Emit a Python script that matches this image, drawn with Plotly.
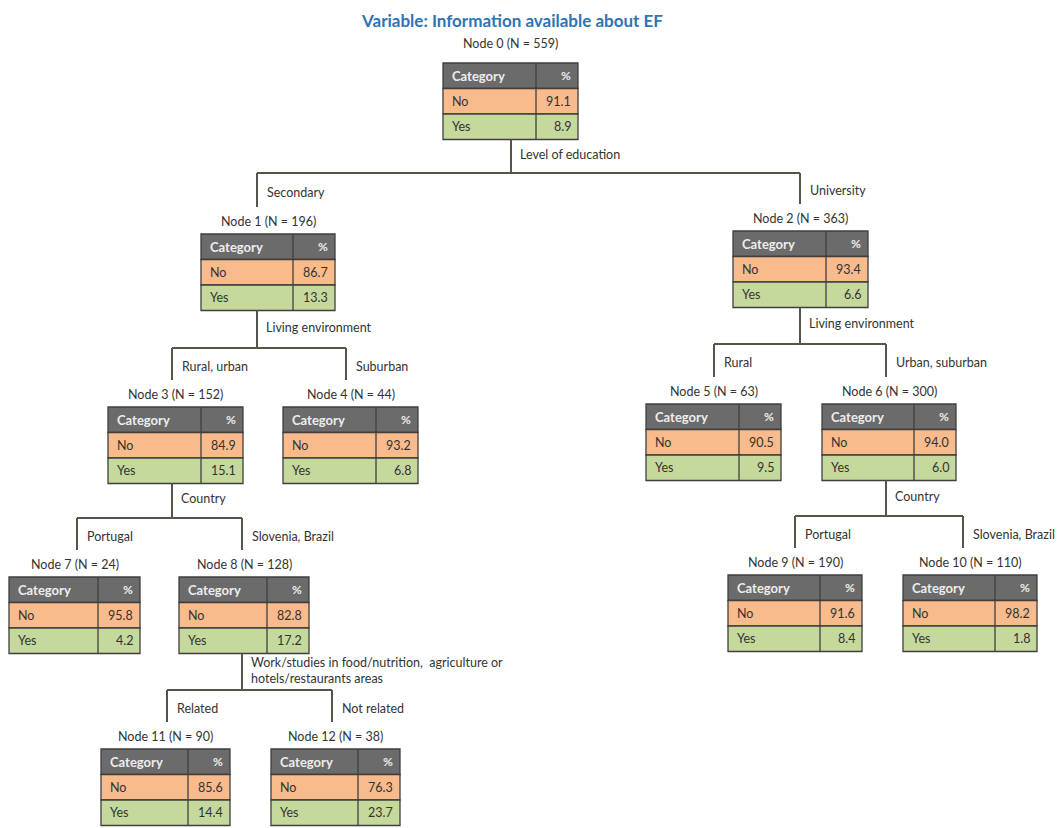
import plotly.graph_objects as go

# ---------------- data ----------------
title_text = "Variable: Information available about EF"
node_ids = [0, 1, 2, 3, 4, 5, 6, 7, 8, 9, 10, 11, 12]
node_n = [559, 196, 363, 152, 44, 63, 300, 24, 128, 190, 110, 90, 38]
pct_no = [91.1, 86.7, 93.4, 84.9, 93.2, 90.5, 94.0, 95.8, 82.8, 91.6, 98.2, 85.6, 76.3]
pct_yes = [8.9, 13.3, 6.6, 15.1, 6.8, 9.5, 6.0, 4.2, 17.2, 8.4, 1.8, 14.4, 23.7]
categories = ["No", "Yes"]
header_labels = ["Category", "%"]

# splits: parent -> (variable, [(child, branch label), ...])
split_parent = [0, 1, 2, 3, 6, 8]
split_variable = ["Level of education", "Living environment", "Living environment",
                  "Country", "Country",
                  "Work/studies in food/nutrition,  agriculture or<br>hotels/restaurants areas"]
split_children = [[1, 2], [3, 4], [5, 6], [7, 8], [9, 10], [11, 12]]
branch_labels = [["Secondary", "University"], ["Rural, urban", "Suburban"],
                 ["Rural", "Urban, suburban"], ["Portugal", "Slovenia, Brazil"],
                 ["Portugal", "Slovenia, Brazil"], ["Related", "Not related"]]

# ---------------- layout (pixel geometry, page coordinates) ----------------
W, H = 1063, 828
PAGE_MARGIN = 8  # default body margin of the html page
tbl_left = {0: 443, 1: 201, 2: 733, 3: 108, 4: 283, 5: 646, 6: 822,
            7: 9, 8: 179, 9: 728, 10: 903, 11: 101, 12: 271}
tbl_top = {0: 63, 1: 234, 2: 231, 3: 407, 4: 407, 5: 404, 6: 404,
           7: 577, 8: 577, 9: 575, 10: 575, 11: 749, 12: 749}
tbl_w = {0: 135, 1: 134, 2: 135, 3: 135, 4: 135, 5: 135, 6: 134,
         7: 131, 8: 130, 9: 134, 10: 134, 11: 129, 12: 129}
col2_w = 42
row_h = 25.5
stem_x = {0: 511, 1: 257, 2: 800, 3: 172, 4: 346, 5: 714, 6: 886,
          7: 77, 8: 242, 9: 795, 10: 963, 11: 167, 12: 332}
split_y = {0: 173, 1: 348, 2: 344, 3: 518, 6: 516, 8: 690}

HEADER = "#6B6B6B"
NO_COL = "#F9BA8C"
YES_COL = "#C5D99D"
BORDER = "#3F3F3F"
LINE = "#55554A"
TXT = "#333333"
FONT = "Lato, 'Open Sans', sans-serif"

fig = go.Figure()
fig.add_trace(go.Scatter(x=[PAGE_MARGIN, W], y=[PAGE_MARGIN, H], mode="markers",
                         marker=dict(opacity=0), hoverinfo="skip", showlegend=False))

shapes = []
ann = []

def add_text(x, y, text, xanchor="left", size=12, color=TXT, bold=False, yanchor="middle"):
    t = f"<b>{text}</b>" if bold else text
    ann.append(dict(x=x, y=y, xref="x", yref="y", text=t, showarrow=False,
                    xanchor=xanchor, yanchor=yanchor, align="left", borderpad=0,
                    font=dict(family=FONT, size=size, color=color)))

# tables
for i, nid in enumerate(node_ids):
    L, T, w = tbl_left[nid], tbl_top[nid], tbl_w[nid]
    R = L + w
    D = R - col2_w
    fills = [HEADER, NO_COL, YES_COL]
    for r in range(3):
        y0 = T + r * row_h
        shapes.append(dict(type="rect", x0=L, x1=R, y0=y0, y1=y0 + row_h,
                           fillcolor=fills[r], line=dict(color=BORDER, width=1.3), layer="below"))
    shapes.append(dict(type="line", x0=D, x1=D, y0=T, y1=T + 3 * row_h,
                       line=dict(color=BORDER, width=1.3)))
    # texts
    add_text(L + 8, T + row_h / 2, header_labels[0], size=13, color="#EDEDED", bold=True)
    add_text(R - 6, T + row_h / 2, header_labels[1], xanchor="right", size=12, color="#EDEDED", bold=True)
    vals = [pct_no[i], pct_yes[i]]
    for r, (cat, v) in enumerate(zip(categories, vals)):
        yc = T + (r + 1) * row_h + row_h / 2
        add_text(L + 8, yc, cat, size=12.5)
        add_text(R - 6, yc, f"{v:.1f}", xanchor="right", size=12.5)
    # node label
    ly = 43 if nid == 0 else T - 13
    add_text(L + w / 2, ly, f"Node {nid} (N = {node_n[i]})", xanchor="center", size=12.5)

# edges
for p, var, kids, labs in zip(split_parent, split_variable, split_children, branch_labels):
    sx = stem_x[p]
    pb = tbl_top[p] + 3 * row_h
    sy = split_y[p]
    shapes.append(dict(type="line", x0=sx, x1=sx, y0=pb, y1=sy, line=dict(color=LINE, width=2)))
    xs = [stem_x[k] for k in kids]
    shapes.append(dict(type="line", x0=min(xs), x1=max(xs), y0=sy, y1=sy, line=dict(color=LINE, width=2)))
    if "<br>" in var:
        add_text(sx + 8, pb + (sy - pb) / 2 - 1, var, size=12.5)
    else:
        add_text(sx + 8, pb + (sy - pb) / 2 - 2, var, size=12.5)
    for k, lab in zip(kids, labs):
        ct = tbl_top[k] - 27
        shapes.append(dict(type="line", x0=stem_x[k], x1=stem_x[k], y0=sy, y1=ct,
                           line=dict(color=LINE, width=2)))
        add_text(stem_x[k] + 9, sy + (ct - sy) / 2 + 2, lab, size=12.5)

# title
add_text(512, 8.5, title_text, xanchor="center", size=17, color="#2E74B5", bold=True, yanchor="top")

fig.update_layout(
    width=W - PAGE_MARGIN, height=H - PAGE_MARGIN, margin=dict(l=0, r=0, t=0, b=0),
    paper_bgcolor="white", plot_bgcolor="white",
    xaxis=dict(range=[PAGE_MARGIN, W], visible=False, fixedrange=True),
    yaxis=dict(range=[H, PAGE_MARGIN], visible=False, fixedrange=True),
    shapes=shapes, annotations=ann, showlegend=False,
)
fig.write_html("out.html")
